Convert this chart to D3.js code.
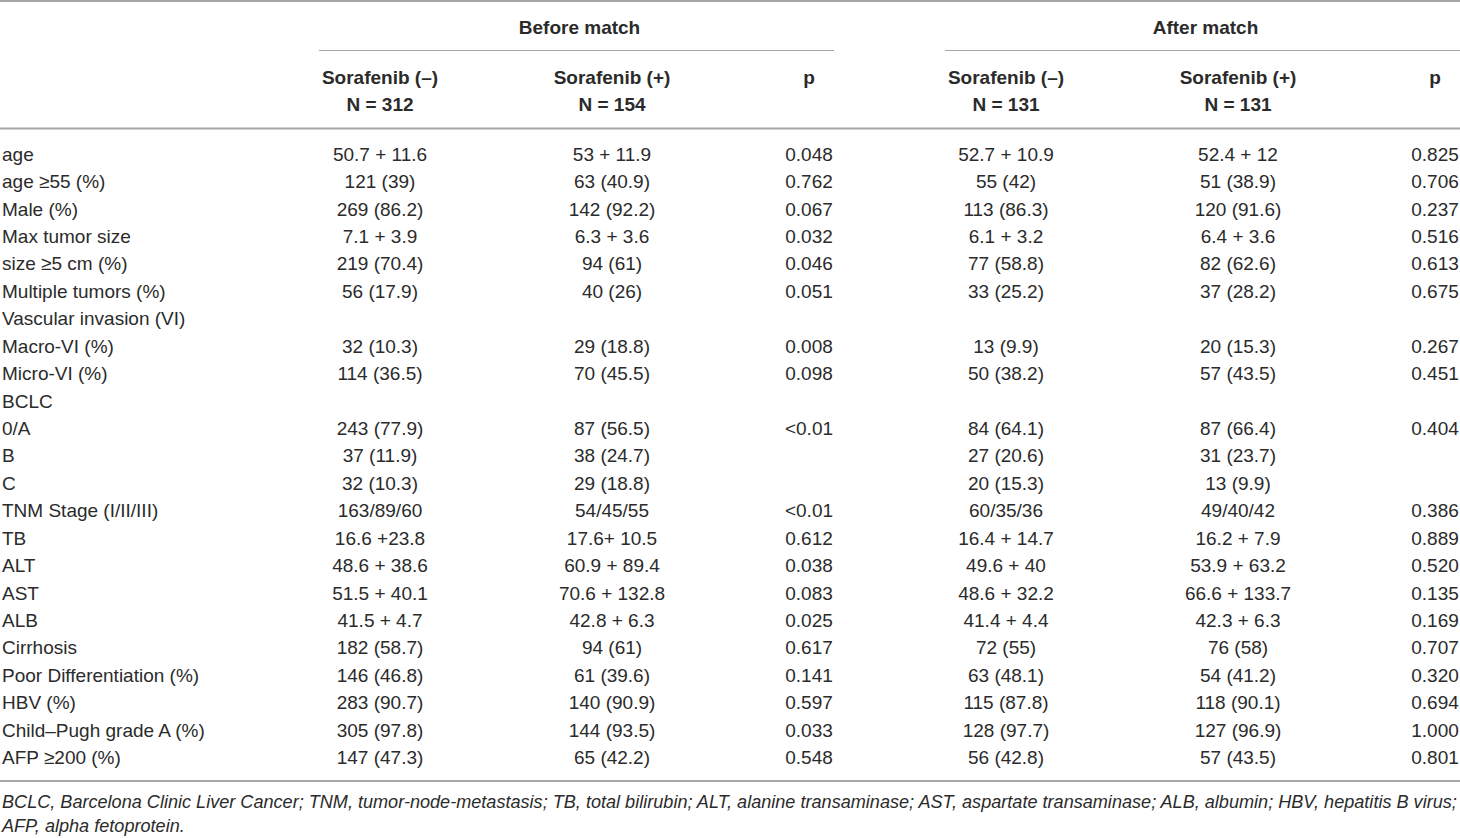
<!DOCTYPE html>
<html>
<head>
<meta charset="utf-8">
<script src="https://cdn.jsdelivr.net/npm/d3@7"></script>
<style>
  html, body { margin: 0; padding: 0; background: #fff; }
  svg text { font-family: "Liberation Sans", Arial, sans-serif; }
</style>
</head>
<body>
<svg id="chart" width="1460" height="838"></svg>
<script>
// table content, one array per column
var groups = ['Before match', 'After match'];
var colHeads = ['Sorafenib (\u2013)', 'Sorafenib (+)', 'p', 'Sorafenib (\u2013)', 'Sorafenib (+)', 'p'];
var colNs = ['N = 312', 'N = 154', '', 'N = 131', 'N = 131', ''];

var labels = ['age', 'age \u226555 (%)', 'Male (%)', 'Max tumor size', 'size \u22655 cm (%)',
  'Multiple tumors (%)', 'Vascular invasion (VI)', 'Macro-VI (%)', 'Micro-VI (%)', 'BCLC',
  '0/A', 'B', 'C', 'TNM Stage (I/II/III)', 'TB', 'ALT', 'AST', 'ALB', 'Cirrhosis',
  'Poor Differentiation (%)', 'HBV (%)', 'Child\u2013Pugh grade A (%)', 'AFP \u2265200 (%)'];

var beforeNeg = ['50.7 + 11.6', '121 (39)', '269 (86.2)', '7.1 + 3.9', '219 (70.4)', '56 (17.9)', '',
  '32 (10.3)', '114 (36.5)', '', '243 (77.9)', '37 (11.9)', '32 (10.3)', '163/89/60', '16.6 +23.8',
  '48.6 + 38.6', '51.5 + 40.1', '41.5 + 4.7', '182 (58.7)', '146 (46.8)', '283 (90.7)', '305 (97.8)', '147 (47.3)'];
var beforePos = ['53 + 11.9', '63 (40.9)', '142 (92.2)', '6.3 + 3.6', '94 (61)', '40 (26)', '',
  '29 (18.8)', '70 (45.5)', '', '87 (56.5)', '38 (24.7)', '29 (18.8)', '54/45/55', '17.6+ 10.5',
  '60.9 + 89.4', '70.6 + 132.8', '42.8 + 6.3', '94 (61)', '61 (39.6)', '140 (90.9)', '144 (93.5)', '65 (42.2)'];
var beforeP = ['0.048', '0.762', '0.067', '0.032', '0.046', '0.051', '', '0.008', '0.098', '',
  '<0.01', '', '', '<0.01', '0.612', '0.038', '0.083', '0.025', '0.617', '0.141', '0.597', '0.033', '0.548'];
var afterNeg = ['52.7 + 10.9', '55 (42)', '113 (86.3)', '6.1 + 3.2', '77 (58.8)', '33 (25.2)', '',
  '13 (9.9)', '50 (38.2)', '', '84 (64.1)', '27 (20.6)', '20 (15.3)', '60/35/36', '16.4 + 14.7',
  '49.6 + 40', '48.6 + 32.2', '41.4 + 4.4', '72 (55)', '63 (48.1)', '115 (87.8)', '128 (97.7)', '56 (42.8)'];
var afterPos = ['52.4 + 12', '51 (38.9)', '120 (91.6)', '6.4 + 3.6', '82 (62.6)', '37 (28.2)', '',
  '20 (15.3)', '57 (43.5)', '', '87 (66.4)', '31 (23.7)', '13 (9.9)', '49/40/42', '16.2 + 7.9',
  '53.9 + 63.2', '66.6 + 133.7', '42.3 + 6.3', '76 (58)', '54 (41.2)', '118 (90.1)', '127 (96.9)', '57 (43.5)'];
var afterP = ['0.825', '0.706', '0.237', '0.516', '0.613', '0.675', '', '0.267', '0.451', '',
  '0.404', '', '', '0.386', '0.889', '0.520', '0.135', '0.169', '0.707', '0.320', '0.694', '1.000', '0.801'];

var footnotes = ['BCLC, Barcelona Clinic Liver Cancer; TNM, tumor-node-metastasis; TB, total bilirubin; ALT, alanine transaminase; AST, aspartate transaminase; ALB, albumin; HBV, hepatitis B virus;',
  'AFP, alpha fetoprotein.'];

var columns = [beforeNeg, beforePos, beforeP, afterNeg, afterPos, afterP];

var svg = d3.select('#chart');
var lineColor = '#a6a6a6';
var textColor = '#2b2b2b';

// horizontal: each group spans a block, columns sit at fixed offsets inside it
var groupX = d3.scaleOrdinal().domain(groups).range([319, 945]);
var blockW = 515;
var colOffset = d3.scaleOrdinal().domain([0, 1, 2]).range([61, 293, 490]);
function colX(j) { return groupX(groups[Math.floor(j / 3)]) + colOffset(j % 3); }

// vertical: one row every ~27.45px
var rowY = d3.scaleLinear().domain([0, labels.length - 1]).range([154, 757.5]);

// rules
function rule(x1, x2, y, w) {
  svg.append('line').attr('x1', x1).attr('x2', x2).attr('y1', y).attr('y2', y)
     .attr('stroke', lineColor).attr('stroke-width', w);
}
rule(0, 1460, 1, 2);
groups.forEach(function (g) { rule(groupX(g), groupX(g) + blockW, 50.5, 1.2); });
rule(0, 1460, 128.5, 2.2);
rule(0, 1460, 781, 2.2);

// group titles
svg.selectAll('text.group').data(groups).enter().append('text')
   .attr('class', 'group')
   .attr('x', function (d) { return groupX(d) + blockW / 2 + 3; })
   .attr('y', 27)
   .attr('dy', '0.35em')
   .attr('text-anchor', 'middle')
   .attr('font-weight', 'bold')
   .attr('font-size', 19)
   .attr('fill', textColor)
   .text(function (d) { return d; });

// column headers
colHeads.forEach(function (h, j) {
  var t = svg.append('text')
     .attr('x', colX(j))
     .attr('text-anchor', 'middle')
     .attr('font-weight', 'bold')
     .attr('font-size', 19)
     .attr('fill', textColor);
  if (colNs[j] === '') {
    t.attr('y', 77).attr('dy', '0.35em').text(h);
  } else {
    t.append('tspan').attr('x', colX(j)).attr('y', 77).attr('dy', '0.35em').text(h);
    t.append('tspan').attr('x', colX(j)).attr('y', 104).attr('dy', '0.35em').text(colNs[j]);
  }
});

// row labels
svg.selectAll('text.label').data(labels).enter().append('text')
   .attr('class', 'label')
   .attr('x', 2)
   .attr('y', function (d, i) { return rowY(i); })
   .attr('dy', '0.35em')
   .attr('font-size', 19)
   .attr('fill', textColor)
   .text(function (d) { return d; });

// cell values
columns.forEach(function (col, j) {
  svg.selectAll('text.c' + j).data(col).enter().append('text')
     .attr('class', 'c' + j)
     .attr('x', colX(j))
     .attr('y', function (d, i) { return rowY(i); })
     .attr('dy', '0.35em')
     .attr('text-anchor', 'middle')
     .attr('font-size', 19)
     .attr('fill', textColor)
     .text(function (d) { return d; });
});

// footnote, first line stretched across the full width
var fn = svg.selectAll('text.fn').data(footnotes).enter().append('text')
   .attr('class', 'fn')
   .attr('x', 2)
   .attr('y', function (d, i) { return 802 + i * 23.7; })
   .attr('dy', '0.35em')
   .attr('font-style', 'italic')
   .attr('font-size', 17)
   .attr('fill', textColor)
   .text(function (d) { return d; });
var w0 = fn.nodes()[0].getComputedTextLength();
var fs = 17 * 1456 / w0;
fn.attr('font-size', fs);
</script>
</body>
</html>
